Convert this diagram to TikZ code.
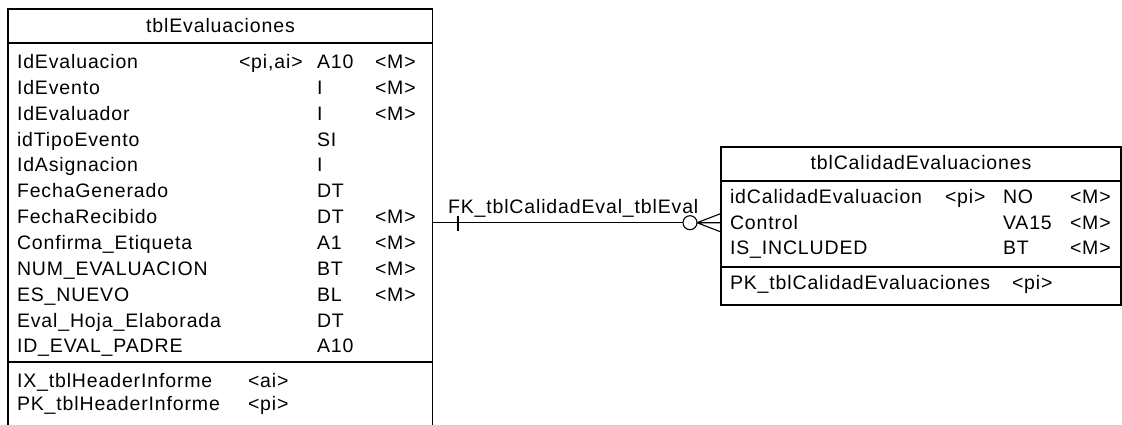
\documentclass[tikz,border=0pt]{standalone}
\usepackage{fontspec}
\setmainfont{Liberation Sans}[LetterSpace=4.4]
\begin{document}
\begin{tikzpicture}[x=1pt,y=-1pt,line width=1.1pt,
  every node/.style={inner sep=0pt,outer sep=0pt,font=\fontsize{19.5}{23}\selectfont},
  cell/.style={anchor=base west},
  ttl/.style={anchor=base},
  tbl/.style={draw,anchor=north west}]
\useasboundingbox (0,0) rectangle (1122,424);
% ---------- table tblEvaluaciones (cut at the bottom) ----------
\node[anchor=north west,minimum width=424.5pt,minimum height=416pt] (tblE) at (8,9) {};
\draw (tblE.south west) -- (tblE.north west) -- (tblE.north east) -- (tblE.south east);
\draw (8,43) -- (432.5,43);
\draw (8,362) -- (432.5,362);
\node[ttl] (tblEtitle) at (220.5,32) {tblEvaluaciones};
\foreach \n/\k/\t/\m [count=\i] in {
  IdEvaluacion/{<pi,ai>}/A10/{<M>},
  IdEvento//I/{<M>},
  IdEvaluador//I/{<M>},
  idTipoEvento//SI/,
  IdAsignacion//I/,
  FechaGenerado//DT/,
  FechaRecibido//DT/{<M>},
  Confirma\_Etiqueta//A1/{<M>},
  NUM\_EVALUACION//BT/{<M>},
  ES\_NUEVO//BL/{<M>},
  Eval\_Hoja\_Elaborada//DT/,
  ID\_EVAL\_PADRE//A10/}{
  \pgfmathsetmacro{\yb}{68.5+25.85*(\i-1)}
  \node[cell] (en\i) at (17,\yb) {\n};
  \node[cell] (ek\i) at (239,\yb) {\k};
  \node[cell] (et\i) at (317,\yb) {\t};
  \node[cell] (em\i) at (375,\yb) {\m};
}
\node[cell] (eix) at (17,387) {IX\_tblHeaderInforme};
\node[cell] (eixk) at (248,387) {<ai>};
\node[cell] (epk) at (17,410) {PK\_tblHeaderInforme};
\node[cell] (epkk) at (248,410) {<pi>};
% ---------- table tblCalidadEvaluaciones ----------
\node[tbl,minimum width=400pt,minimum height=158pt] (tblC) at (721,147) {};
\draw (721,181) -- (1121,181);
\draw (721,267) -- (1121,267);
\node[ttl] (tblCtitle) at (921,169) {tblCalidadEvaluaciones};
\foreach \n/\k/\t/\m [count=\i] in {
  idCalidadEvaluacion/{<pi>}/NO/{<M>},
  Control//VA15/{<M>},
  IS\_INCLUDED//BT/{<M>}}{
  \pgfmathsetmacro{\yb}{203.5+25.7*(\i-1)}
  \node[cell] (cn\i) at (730,\yb) {\n};
  \node[cell] (ck\i) at (945,\yb) {\k};
  \node[cell] (ct\i) at (1003,\yb) {\t};
  \node[cell] (cm\i) at (1070,\yb) {\m};
}
\node[cell] (cpk) at (730,289.5) {PK\_tblCalidadEvaluaciones};
\node[cell] (cpkk) at (1012,289.5) {<pi>};
% ---------- reference FK_tblCalidadEval_tblEval ----------
\coordinate (fkL) at (432.5,222.7);
\node[circle,draw,minimum size=14pt,inner sep=0pt] (fkO) at (690,222.7) {};
\coordinate (cfT) at (721,213.5);
\coordinate (cfM) at (721,222.7);
\coordinate (cfB) at (721,232);
\coordinate (tk1) at (458,215.5);
\coordinate (tk2) at (458,231);
\draw (fkL) -- (fkO.west);
\draw (fkO.east) -- (cfT) (fkO.east) -- (cfM) (fkO.east) -- (cfB);
\draw (tk1) -- (tk2);
\node[cell] (fklabel) at (448,213) {FK\_tblCalidadEval\_tblEval};
\end{tikzpicture}
\end{document}
